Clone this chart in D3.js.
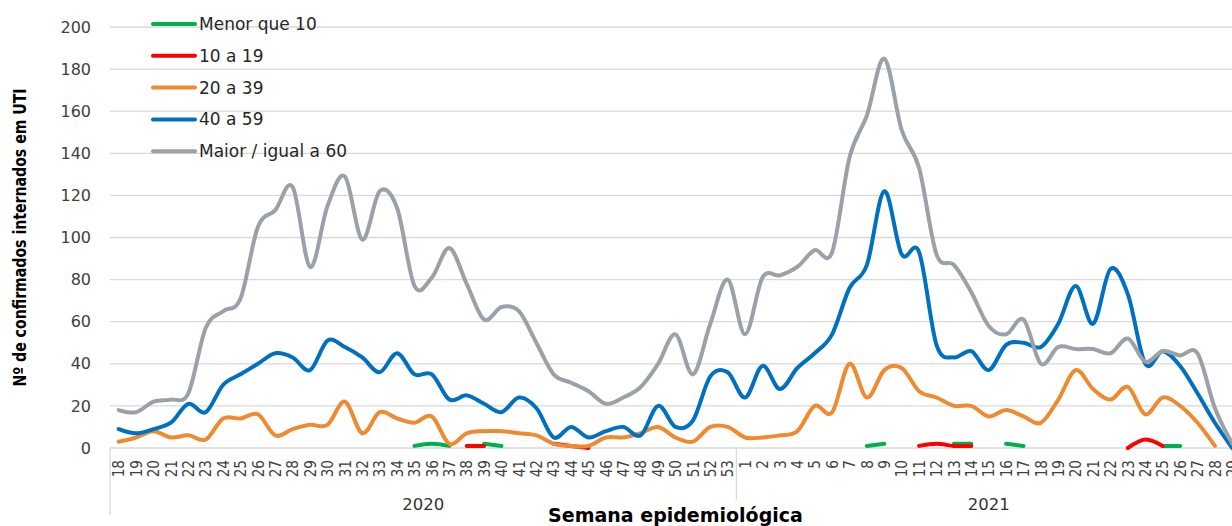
<!DOCTYPE html>
<html>
<head>
<meta charset="utf-8">
<script src="https://cdn.jsdelivr.net/npm/d3@7"></script>
<style>
  html, body { margin: 0; padding: 0; background: #ffffff; }
  svg { display: block; }
</style>
</head>
<body>
<script>
// ---------- data ----------
const years = ["2020", "2021"];
const weeks2020 = ["18","19","20","21","22","23","24","25","26","27","28","29","30","31","32","33","34","35","36","37","38","39","40","41","42","43","44","45","46","47","48","49","50","51","52","53"];
const weeks2021 = ["1","2","3","4","5","6","7","8","9","10","11","12","13","14","15","16","17","18","19","20","21","22","23","24","25","26","27","28","29"];

const seriesNames = ["Menor que 10", "10 a 19", "20 a 39", "40 a 59", "Maior / igual a 60"];
const seriesColors = ["#00b050", "#ff0000", "#ef8a30", "#0070c0", "#9aa1a8"];

const N = null;
const menorQue10 = [
  N,N,N,N,N,N,N,N,N,N,N,N,N,N,N,N,N,1,2,1,N,2,1,N,N,N,N,N,N,N,N,N,N,N,N,N,
  N,N,N,N,N,N,N,1,2,N,N,N,2,2,N,2,1,N,N,N,N,N,N,N,1,1,N,N,N
];
const de10a19 = [
  N,N,N,N,N,N,N,N,N,N,N,N,N,N,N,N,N,N,N,N,1,1,N,N,N,2,1,0,N,N,N,N,N,N,N,N,
  N,N,N,N,N,N,N,N,N,N,1,2,1,1,N,N,N,N,N,N,N,N,0,4,1,N,N,N,N
];
const de20a39 = [
  3,5,8,5,6,4,14,14,16,6,9,11,11,22,7,17,14,12,15,2,7,8,8,7,6,2,1,1,5,5,7,10,5,3,10,10,
  5,5,6,8,20,17,40,24,37,38,27,24,20,20,15,18,15,12,23,37,28,23,29,16,24,20,12,1,N
];
const de40a59 = [
  9,7,9,12,21,17,30,35,40,45,43,37,51,48,43,36,45,35,35,23,25,21,17,24,19,5,10,5,8,10,6,20,10,13,34,36,
  24,39,28,38,45,54,76,87,122,92,93,49,43,46,37,49,50,48,59,77,59,85,73,40,46,39,26,12,0
];
const maior60 = [
  18,17,22,23,26,57,65,71,105,113,124,86,115,129,99,122,114,77,81,95,78,61,67,65,50,35,31,27,21,24,29,40,54,35,59,80,
  54,81,82,86,94,93,138,158,185,151,133,92,87,74,58,54,61,40,48,47,47,45,52,41,46,44,45,19,2
];
const yTicks = [0, 20, 40, 60, 80, 100, 120, 140, 160, 180, 200];

// ---------- layout ----------
const W = 1232, H = 526;
const plotLeft = 110, plotRight = 1241, plotTop = 27, plotBottom = 448;

const cats = weeks2020.map(w => "2020-" + w).concat(weeks2021.map(w => "2021-" + w));
const catLabel = weeks2020.concat(weeks2021);

const x = d3.scaleBand().domain(cats).range([plotLeft, plotRight]).paddingInner(0).paddingOuter(0);
const y = d3.scaleLinear().domain([0, 200]).range([plotBottom, plotTop]);
const cx = i => x(cats[i]) + x.bandwidth() / 2;

const svg = d3.select("body").append("svg").attr("width", W).attr("height", H)
  .style("font-family", "'DejaVu Sans', sans-serif");

// gridlines
svg.append("g").selectAll("line").data(yTicks).join("line")
  .attr("x1", plotLeft).attr("x2", plotRight)
  .attr("y1", d => y(d)).attr("y2", d => y(d))
  .attr("stroke", "#d9d9d9").attr("stroke-width", 1.3);

// y axis labels
const yAxis = svg.append("g").attr("transform", `translate(${plotLeft},0)`)
  .call(d3.axisLeft(y).tickValues(yTicks).tickSize(0).tickPadding(19));
yAxis.select(".domain").remove();
yAxis.selectAll("text").attr("font-size", 16).attr("fill", "#404040")
  .attr("font-family", "'DejaVu Sans', sans-serif");

// x axis (week labels)
const xAxis = svg.append("g").attr("transform", `translate(0,${plotBottom})`)
  .call(d3.axisBottom(x).tickSize(0).tickFormat((d, i) => catLabel[i]));
xAxis.select(".domain").remove();
const sx = 0.85;
xAxis.selectAll("text")
  .attr("font-size", 16).attr("fill", "#404040")
  .attr("font-family", "'DejaVu Sans', sans-serif")
  .attr("text-anchor", "end")
  .attr("y", 0)
  .attr("x", -12 / sx)
  .attr("dy", "0.36em")
  .attr("transform", `rotate(-90) scale(${sx},1)`);

// group separators
const sep = x(cats[weeks2020.length]);
svg.append("line").attr("x1", plotLeft).attr("x2", plotLeft).attr("y1", plotBottom).attr("y2", 515)
  .attr("stroke", "#d9d9d9").attr("stroke-width", 1.3);
svg.append("line").attr("x1", sep).attr("x2", sep).attr("y1", plotBottom).attr("y2", 500)
  .attr("stroke", "#d9d9d9").attr("stroke-width", 1.3);

// year labels
const yearCenters = [(plotLeft + sep) / 2, (sep + plotRight) / 2];
svg.append("g").selectAll("text").data(years).join("text")
  .attr("x", (d, i) => yearCenters[i]).attr("y", 510)
  .attr("text-anchor", "middle").attr("font-size", 16.5).attr("fill", "#333")
  .text(d => d);

// axis titles
svg.append("text").attr("x", (plotLeft + plotRight) / 2).attr("y", 521.5)
  .attr("text-anchor", "middle").attr("font-size", 19).attr("font-weight", "bold")
  .attr("fill", "#000").text("Semana epidemiológica");

const ty = 0.83;
svg.append("text")
  .attr("transform", `translate(20.5,${(plotTop + plotBottom) / 2}) rotate(-90) scale(${ty},1)`)
  .attr("text-anchor", "middle").attr("dy", "0.35em")
  .attr("font-size", 17).attr("font-weight", "bold").attr("fill", "#000")
  .text("Nº de confirmados internados em UTI");

// series
const allSeries = [menorQue10, de10a19, de20a39, de40a59, maior60];
const line = d3.line()
  .defined(d => d.v !== null)
  .x(d => cx(d.i)).y(d => y(d.v))
  .curve(d3.curveCardinal.tension(0));

svg.append("g").selectAll("path").data(allSeries).join("path")
  .attr("d", s => line(s.map((v, i) => ({ v, i }))))
  .attr("fill", "none")
  .attr("stroke", (s, k) => seriesColors[k])
  .attr("stroke-width", 4)
  .attr("stroke-linecap", "round")
  .attr("stroke-linejoin", "round");

// legend
const lg = svg.append("g");
seriesNames.forEach((name, k) => {
  const ly = 24 + k * 31.8;
  lg.append("line").attr("x1", 153).attr("x2", 195).attr("y1", ly).attr("y2", ly)
    .attr("stroke", seriesColors[k]).attr("stroke-width", 4).attr("stroke-linecap", "round");
  lg.append("text").attr("x", 199).attr("y", ly).attr("dy", "0.35em")
    .attr("font-size", 17).attr("fill", "#262626").text(name);
});
</script>
</body>
</html>
